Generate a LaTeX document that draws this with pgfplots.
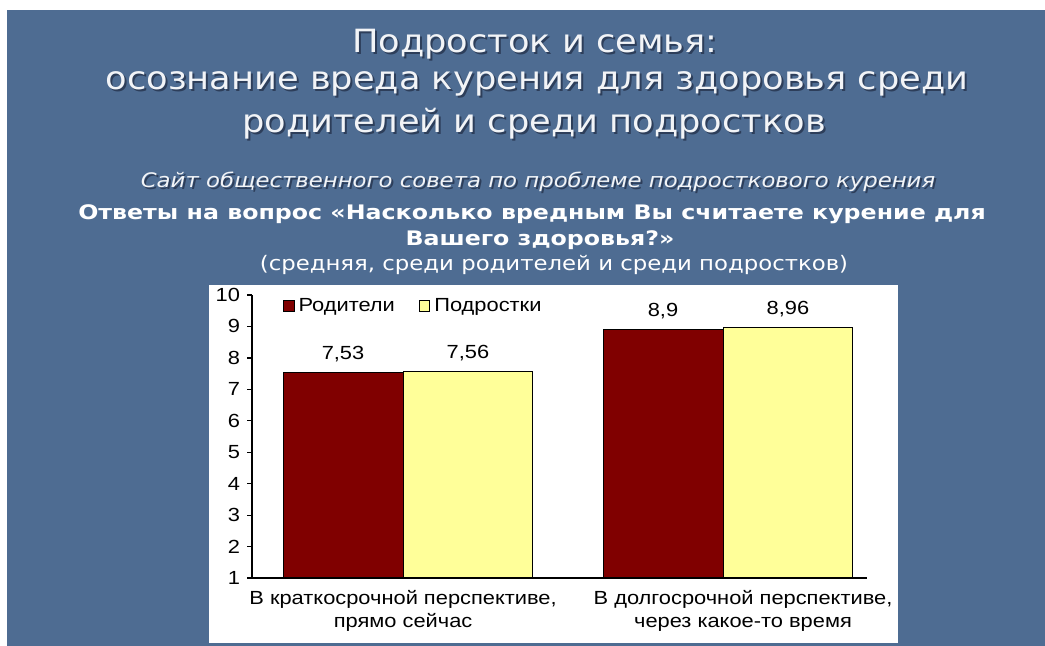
\documentclass[border=0pt]{standalone}
\usepackage{pgfplots}
\pgfplotsset{compat=1.18}
\usepackage{fontspec}
\setmainfont{Liberation Sans}
\newfontfamily\titlefont[FakeStretch=1.1]{DejaVu Sans}
\newfontfamily\subfont[FakeStretch=1.14]{DejaVu Sans}
\newfontfamily\boldfont[FakeStretch=1.185]{DejaVu Sans}
\newfontfamily\chartfont[FakeStretch=1.15]{Liberation Sans}
\definecolor{bgblue}{RGB}{78,108,146}
\definecolor{darkred}{RGB}{128,0,0}
\definecolor{lightyel}{RGB}{255,255,153}
\definecolor{titlewhite}{RGB}{242,244,247}
\definecolor{shadowc}{RGB}{45,62,90}
\newcommand\cfont{\chartfont\fontsize{9.5}{11.5}\selectfont}
\newcommand\sh[4]{%
  \node[text=shadowc,font=#3] at (#1+2,#2+2) {#4};
  \node[text=titlewhite,font=#3] at (#1,#2) {#4};}
\begin{document}
\begin{tikzpicture}[x=0.5pt,y=-0.5pt]
\path[use as bounding box] (0,0) rectangle (1045,646);
\fill[white] (0,0) rectangle (1045,646);
\fill[bgblue] (7,10) rectangle (1045,646);
\fill[white] (209,285) rectangle (898,643);
\sh{535}{44}{\titlefont\fontsize{16}{19}\selectfont}{Подросток и семья:}
\sh{537}{84}{\titlefont\fontsize{16}{19}\selectfont}{осознание вреда курения для здоровья среди}
\sh{534}{124}{\titlefont\fontsize{16}{19}\selectfont}{родителей и среди подростков}
\sh{538}{182}{\subfont\itshape\fontsize{10}{12}\selectfont}{Сайт общественного совета по проблеме подросткового курения}
\node[text=white,font=\boldfont\bfseries\fontsize{10}{12}\selectfont] at (532,214) {Ответы на вопрос «Насколько вредным Вы считаете курение для};
\node[text=white,font=\boldfont\bfseries\fontsize{10}{12}\selectfont] at (540,240) {Вашего здоровья?»};
\node[text=white,font=\subfont\fontsize{10}{12}\selectfont] at (554,265) {(средняя, среди родителей и среди подростков)};
\coordinate (O) at (252,578);
\begin{axis}[at={(O)}, anchor=south west, scale only axis,
  width=307.5pt, height=141.5pt,
  xmin=-0.472, xmax=1.45, ymin=1, ymax=10,
  axis lines=left, axis line style={-, black, line width=0.7pt},
  ytick={1,...,10}, tick align=outside, major tick length=2.5pt,
  ytick style={black, line width=0.6pt},
  xtick={0,1.0625},
  xticklabels={{В краткосрочной перспективе,\\прямо сейчас},{В долгосрочной перспективе,\\через какое-то время}},
  xtick style={draw=none},
  xticklabel style={align=center, font=\cfont, text=black},
  yticklabel style={font=\cfont, text=black},
  ybar,
  nodes near coords,
  every node near coord/.append style={font=\cfont, text=black, anchor=south, inner sep=0pt, yshift=5pt},
  legend style={at={(0.05,0.961)}, anchor=west, draw=none, fill=none,
    font=\cfont, inner sep=0pt, legend columns=2,
    /tikz/every even column/.append style={column sep=10pt}},
  /pgf/number format/use comma,
  /pgf/number format/assume math mode=true,
]
\addplot[fill=darkred, draw=black, line width=0.5pt, bar width=0.375, bar shift=-0.1875,
  legend image code/.code={\draw[fill=darkred,draw=black,line width=0.5pt] (0pt,-2.6pt) rectangle (5.2pt,2.6pt);}]
  coordinates {(0,7.53) (1,8.9)};
\addplot[fill=lightyel, draw=black, line width=0.5pt, bar width=0.406, bar shift=0.203,
  legend image code/.code={\draw[fill=lightyel,draw=black,line width=0.5pt] (0pt,-2.6pt) rectangle (5.2pt,2.6pt);}]
  coordinates {(0,7.56) (1,8.96)};
\legend{Родители, Подростки}
\draw[black, line width=0.6pt] (axis cs:-0.472,1) -- ++(0pt,-2.5pt);
\end{axis}
\end{tikzpicture}
\end{document}
